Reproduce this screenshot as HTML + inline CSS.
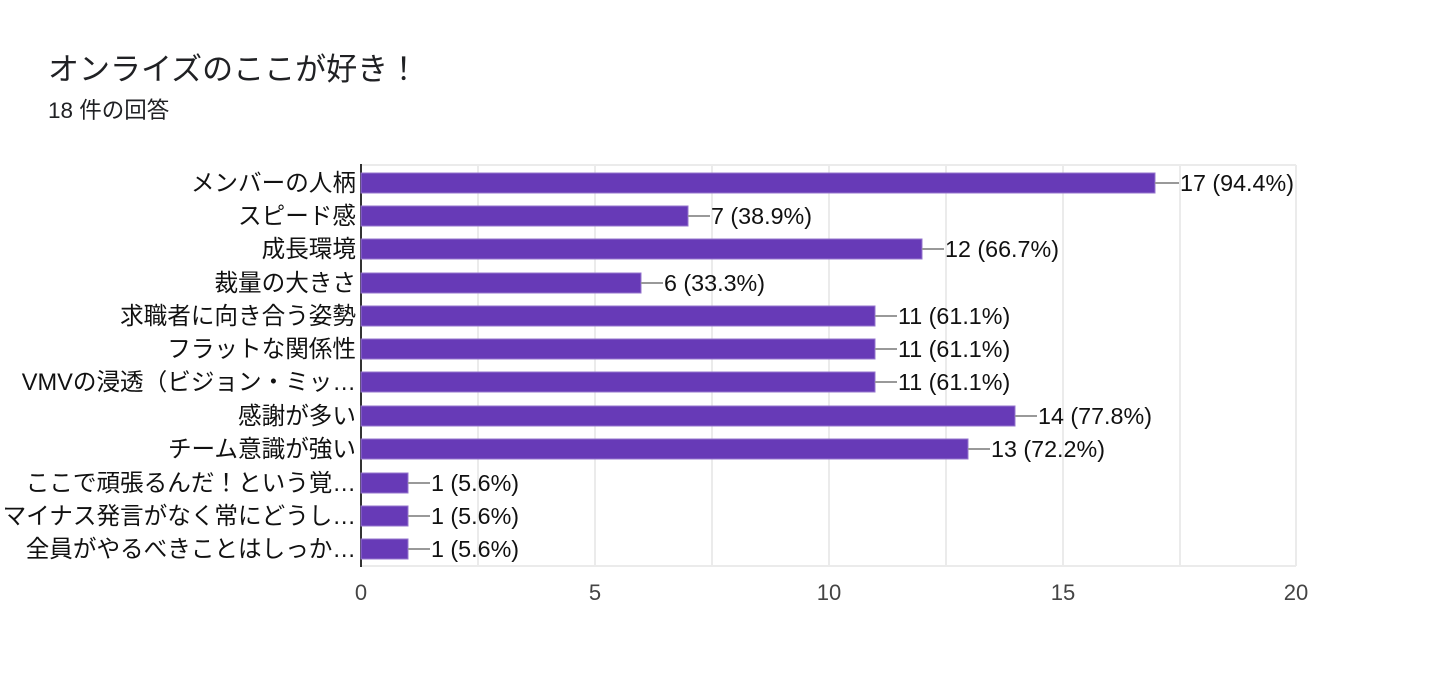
<!DOCTYPE html>
<html><head><meta charset="utf-8"><style>
html,body{margin:0;padding:0;background:#fff;width:1440px;height:685px;overflow:hidden}
svg text{font-family:"Liberation Sans","Noto Sans CJK JP",sans-serif}
</style></head><body>
<svg width="1440" height="685" xmlns="http://www.w3.org/2000/svg">
<text x="48" y="80" font-size="31" fill="#202124">オンライズのここが好き！</text>
<text x="48" y="118" font-size="22.5" fill="#202124">18 件の回答</text>
<g stroke="#ebebeb" stroke-width="2">
<line x1="478" y1="165" x2="478" y2="566"/><line x1="595" y1="165" x2="595" y2="566"/>
<line x1="712" y1="165" x2="712" y2="566"/><line x1="829" y1="165" x2="829" y2="566"/>
<line x1="946" y1="165" x2="946" y2="566"/><line x1="1063" y1="165" x2="1063" y2="566"/>
<line x1="1180" y1="165" x2="1180" y2="566"/><line x1="1296" y1="165" x2="1296" y2="566"/>
<line x1="361" y1="165" x2="1296" y2="165"/><line x1="361" y1="566" x2="1296" y2="566"/>
</g>
<line x1="361" y1="164" x2="361" y2="567" stroke="#333" stroke-width="2"/>
<g font-size="22" fill="#444" text-anchor="middle">
<text x="361" y="600">0</text><text x="595" y="600">5</text><text x="829" y="600">10</text><text x="1063" y="600">15</text><text x="1296" y="600">20</text>
</g>
<g font-size="23.6" fill="#111">
<g text-anchor="end">
<text x="356" y="191">メンバーの人柄</text>
<text x="356" y="224">スピード感</text>
<text x="356" y="257">成長環境</text>
<text x="356" y="291">裁量の大きさ</text>
<text x="356" y="324">求職者に向き合う姿勢</text>
<text x="356" y="357">フラットな関係性</text>
<text x="356" y="390">VMVの浸透（ビジョン・ミッ…</text>
<text x="356" y="424">感謝が多い</text>
<text x="356" y="457">チーム意識が強い</text>
<text x="356" y="491">ここで頑張るんだ！という覚…</text>
<text x="356" y="524">マイナス発言がなく常にどうし…</text>
<text x="356" y="557">全員がやるべきことはしっか…</text>
</g>
</g>
<g fill="#673ab7" stroke="#9575cd" stroke-width="1">
<rect x="361" y="173" width="794" height="20"/>
<rect x="361" y="206" width="327" height="20"/>
<rect x="361" y="239" width="561" height="20"/>
<rect x="361" y="273" width="280" height="20"/>
<rect x="361" y="306" width="514" height="20"/>
<rect x="361" y="339" width="514" height="20"/>
<rect x="361" y="372" width="514" height="20"/>
<rect x="361" y="406" width="654" height="20"/>
<rect x="361" y="439" width="607" height="20"/>
<rect x="361" y="473" width="47" height="20"/>
<rect x="361" y="506" width="47" height="20"/>
<rect x="361" y="539" width="47" height="20"/>
</g>
<g stroke="#999" stroke-width="2">
<line x1="1155" y1="183" x2="1179" y2="183"/>
<line x1="688" y1="216" x2="710" y2="216"/>
<line x1="922" y1="249" x2="944" y2="249"/>
<line x1="641" y1="283" x2="663" y2="283"/>
<line x1="875" y1="316" x2="897" y2="316"/>
<line x1="875" y1="349" x2="897" y2="349"/>
<line x1="875" y1="382" x2="897" y2="382"/>
<line x1="1015" y1="416" x2="1037" y2="416"/>
<line x1="968" y1="449" x2="990" y2="449"/>
<line x1="408" y1="483" x2="430" y2="483"/>
<line x1="408" y1="516" x2="430" y2="516"/>
<line x1="408" y1="549" x2="430" y2="549"/>
</g>
<g font-size="23.3" fill="#111">
<text x="1180" y="191">17 (94.4%)</text>
<text x="711" y="224">7 (38.9%)</text>
<text x="945" y="257">12 (66.7%)</text>
<text x="664" y="291">6 (33.3%)</text>
<text x="898" y="324">11 (61.1%)</text>
<text x="898" y="357">11 (61.1%)</text>
<text x="898" y="390">11 (61.1%)</text>
<text x="1038" y="424">14 (77.8%)</text>
<text x="991" y="457">13 (72.2%)</text>
<text x="431" y="491">1 (5.6%)</text>
<text x="431" y="524">1 (5.6%)</text>
<text x="431" y="557">1 (5.6%)</text>
</g>
</svg>
</body></html>
